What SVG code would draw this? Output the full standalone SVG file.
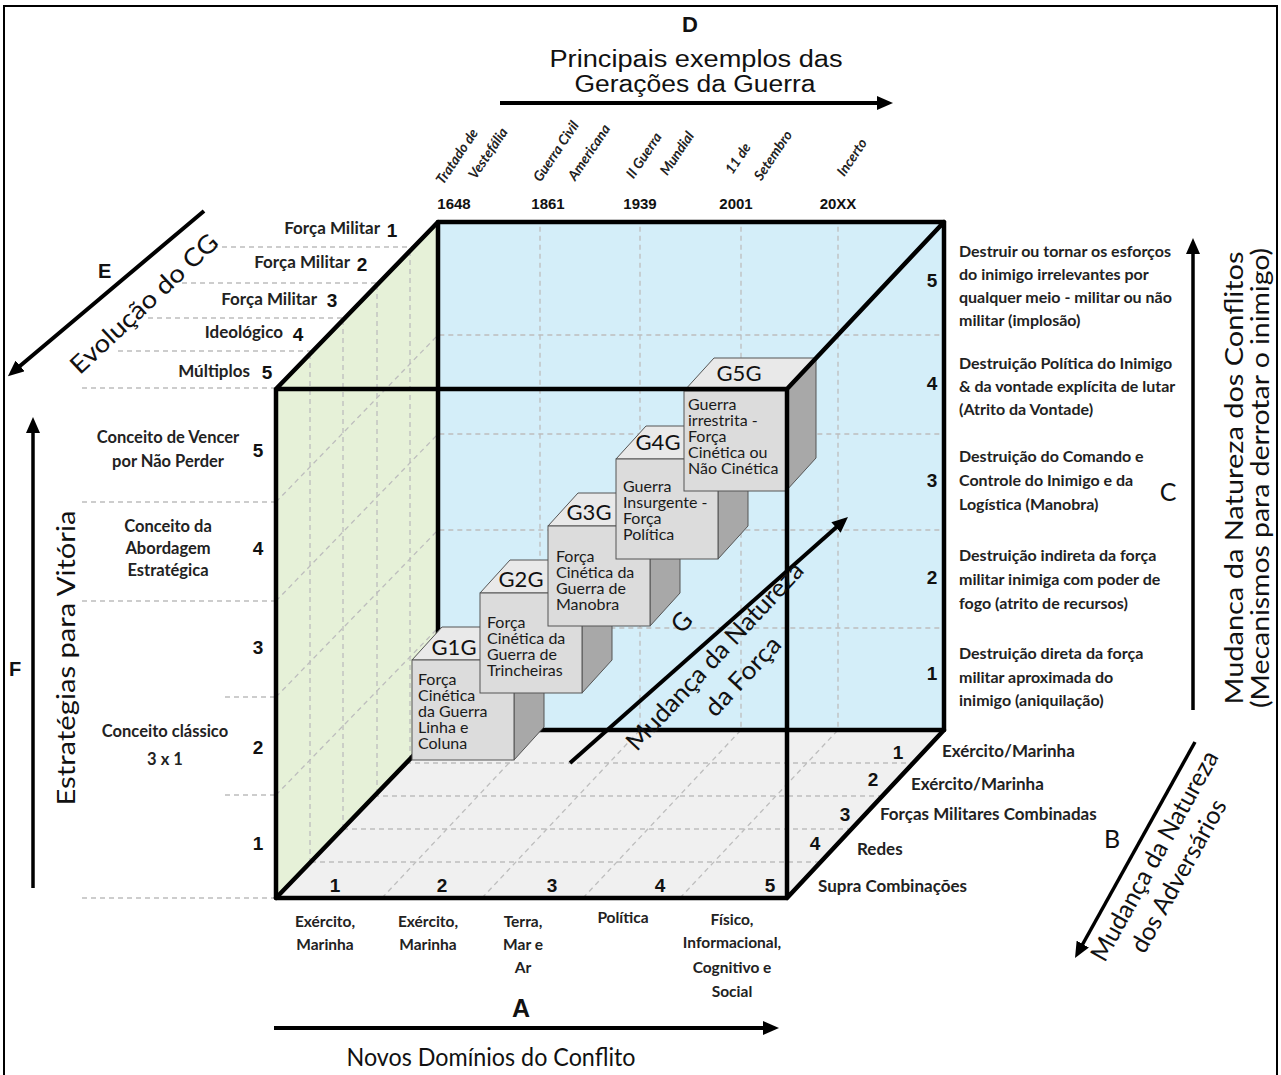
<svg xmlns="http://www.w3.org/2000/svg" width="1281" height="1075" viewBox="0 0 1281 1075">
<defs>
<marker id="ah" viewBox="0 0 16 14" refX="8" refY="7" markerWidth="16" markerHeight="14" markerUnits="userSpaceOnUse" orient="auto"><path d="M0,0 L16,7 L0,14 z" fill="#000"/></marker>
</defs>
<style>
.thick{stroke:#000;stroke-width:4.5;fill:none;stroke-linecap:round;stroke-linejoin:round}
.dash{stroke:#bdbdbd;stroke-width:1.3;stroke-dasharray:5 4;fill:none}
.arr{stroke:#000;stroke-width:4;fill:none;marker-end:url(#ah)}
.n{font-family:"Liberation Sans",Arial,sans-serif;font-weight:bold;font-size:19px;fill:#111}
.l{font-family:Lato,"Liberation Sans",sans-serif;font-weight:700;font-size:15.5px;fill:#222}
.c{font-family:Lato,"Liberation Sans",sans-serif;font-size:16px;fill:#1a1a1a}
.gl{font-family:Lato,"Liberation Sans",sans-serif;font-size:22px;fill:#111;text-anchor:middle}
.big{font-family:Lato,"Liberation Sans",sans-serif;font-size:25px;fill:#111}
.nar{font-family:"Liberation Sans Narrow","Liberation Sans",Arial,sans-serif;fill:#111}
.it{font-family:Lato,"Liberation Sans",sans-serif;font-style:italic;font-weight:700;font-size:14px;fill:#222;text-anchor:middle}
.m{text-anchor:middle}
.e{text-anchor:end}
.ftop{fill:#e9e9e9;stroke:#555;stroke-width:1}
.ffront{fill:#dcdcdc;stroke:#555;stroke-width:1}
.fright{fill:#a8a8a8;stroke:#555;stroke-width:1}
</style>
<rect x="0" y="0" width="1281" height="1075" fill="#fff"/>
<rect x="4" y="6" width="1273" height="1080" fill="none" stroke="#000" stroke-width="2"/>

<g id="cube-frame">
<rect x="438" y="222" width="506" height="508" fill="#d4eef9"/>
<path d="M276,389 L438,222 L438,730 L276,898 Z" fill="#e6f1d8"/>
<path d="M276,898 L438,730 L944,730 L787,898 Z" fill="#f0f0f0"/>
<g class="dash">
<path d="M213,247 H414 M182,283 H379 M148,318 H345 M118,351 H314 M82,388 H276"/>
<path d="M82,502 H276 M82,601 H276 M225,697 H276 M225,795 H276 M82,898 H276"/>
<path d="M276,502 L438,335 H944 M276,601 L438,434 H944 M276,697 L438,530 H944 M276,795 L438,628 H944"/>
<path d="M310,354 V863 M343,320 V829 M377,285 V793 M410,251 V759"/>
<path d="M406,763 H913 M374,796 H882 M343,829 H851 M311,862 H821"/>
<path d="M382,898 L540,730 V222 M482,898 L640,730 V222 M583,898 L741,730 V222 M680,898 L838,730 V222"/>
</g>
<path class="thick" d="M438,222 V730 H944 M276,898 L438,730"/>
</g>

<g id="G1G">
<path class="ftop" d="M412,660 L442,627 L544,627 L514,660 Z"/>
<path class="fright" d="M514,660 L544,627 L544,727 L514,760 Z"/>
<rect class="ffront" x="412" y="660" width="102" height="100"/>
<text class="gl" x="454" y="655">G1G</text>
<text class="c" x="418" y="685"><tspan x="418">Força</tspan><tspan x="418" dy="16">Cinética</tspan><tspan x="418" dy="16">da Guerra</tspan><tspan x="418" dy="16">Linha e</tspan><tspan x="418" dy="16">Coluna</tspan></text>
</g>
<g id="G2G">
<path class="ftop" d="M480,593 L510,560 L612,560 L582,593 Z"/>
<path class="fright" d="M582,593 L612,560 L612,660 L582,693 Z"/>
<rect class="ffront" x="480" y="593" width="102" height="100"/>
<text class="gl" x="521" y="587">G2G</text>
<text class="c" x="487" y="628"><tspan x="487">Força</tspan><tspan x="487" dy="16">Cinética da</tspan><tspan x="487" dy="16">Guerra de</tspan><tspan x="487" dy="16">Trincheiras</tspan></text>
</g>
<g id="G3G">
<path class="ftop" d="M548,526 L578,493 L680,493 L650,526 Z"/>
<path class="fright" d="M650,526 L680,493 L680,593 L650,626 Z"/>
<rect class="ffront" x="548" y="526" width="102" height="100"/>
<text class="gl" x="589" y="520">G3G</text>
<text class="c" x="556" y="562"><tspan x="556">Força</tspan><tspan x="556" dy="16">Cinética da</tspan><tspan x="556" dy="16">Guerra de</tspan><tspan x="556" dy="16">Manobra</tspan></text>
</g>
<g id="G4G">
<path class="ftop" d="M616,459 L646,426 L748,426 L718,459 Z"/>
<path class="fright" d="M718,459 L748,426 L748,526 L718,559 Z"/>
<rect class="ffront" x="616" y="459" width="102" height="100"/>
<text class="gl" x="658" y="450">G4G</text>
<text class="c" x="623" y="492"><tspan x="623">Guerra</tspan><tspan x="623" dy="16">Insurgente -</tspan><tspan x="623" dy="16">Força</tspan><tspan x="623" dy="16">Política</tspan></text>
</g>
<g id="G5G">
<path class="ftop" d="M684,391 L714,358 L816,358 L786,391 Z"/>
<path class="fright" d="M786,391 L816,358 L816,458 L786,491 Z"/>
<rect class="ffront" x="684" y="391" width="102" height="100"/>
<text class="gl" x="739" y="381">G5G</text>
<text class="c" x="688" y="410"><tspan x="688">Guerra</tspan><tspan x="688" dy="16">irrestrita -</tspan><tspan x="688" dy="16">Força</tspan><tspan x="688" dy="16">Cinética ou</tspan><tspan x="688" dy="16">Não Cinética</tspan></text>
</g>

<g id="cube-front-edges">
<path class="thick" d="M276,389 H787 V898 H276 Z M276,389 L438,222 H944 V730 M787,389 L944,222 M787,898 L944,730"/>
</g>

<g id="connectors">
<path class="arr" d="M500,103 H885"/>
<path class="arr" d="M274,1028 H771"/>
<path class="arr" d="M33,888 V425" style="stroke-width:3.5"/>
<path class="arr" d="M1193,710 V246" style="stroke-width:3.5"/>
<path class="arr" d="M204,211 L14,371"/>
<path class="arr" d="M1195,742 L1078.9,951" style="stroke-width:3.5"/>
<path class="arr" d="M570,763 L842,522.3"/>
</g>

<g id="D-axis">
<text class="nar m" x="690" y="32" font-size="22" font-weight="bold">D</text>
<text class="nar m" x="696" y="67" font-size="23" textLength="293" lengthAdjust="spacingAndGlyphs">Principais exemplos das</text>
<text class="nar m" x="695" y="92" font-size="23" textLength="241" lengthAdjust="spacingAndGlyphs">Gerações da Guerra</text>
<text class="it" transform="translate(461,159) rotate(-56)">Tratado de</text>
<text class="it" transform="translate(492,156) rotate(-56)">Vestefália</text>
<text class="it" transform="translate(560,154) rotate(-56)">Guerra Civil</text>
<text class="it" transform="translate(593,155) rotate(-56)">Americana</text>
<text class="it" transform="translate(648,158) rotate(-56)">II Guerra</text>
<text class="it" transform="translate(681,156) rotate(-56)">Mundial</text>
<text class="it" transform="translate(742,161) rotate(-56)">11 de</text>
<text class="it" transform="translate(777,158) rotate(-56)">Setembro</text>
<text class="it" transform="translate(856,160) rotate(-56)">Incerto</text>
<g class="nar m" font-size="15" font-weight="bold">
<text x="454" y="209">1648</text>
<text x="548" y="209">1861</text>
<text x="640" y="209">1939</text>
<text x="736" y="209">2001</text>
<text x="838" y="209">20XX</text>
</g>
</g>

<g id="E-axis">
<text class="nar" x="98" y="278" font-size="20" font-weight="bold">E</text>
<text class="big m" transform="translate(150,310) rotate(-43)" textLength="192" lengthAdjust="spacingAndGlyphs">Evolução do CG</text>
<text class="l e" x="380" y="234" style="font-size:17px">Força Militar</text><text class="n m" x="392" y="237">1</text>
<text class="l e" x="350" y="268" style="font-size:17px">Força Militar</text><text class="n m" x="362" y="271">2</text>
<text class="l e" x="317" y="305" style="font-size:17px">Força Militar</text><text class="n m" x="332" y="307">3</text>
<text class="l e" x="283" y="338" style="font-size:17px">Ideológico</text><text class="n m" x="298" y="341">4</text>
<text class="l e" x="250" y="377" style="font-size:17px">Múltiplos</text><text class="n m" x="267" y="379">5</text>
</g>

<g id="F-axis">
<text class="nar" x="9" y="676" font-size="20" font-weight="bold">F</text>
<text class="big m" transform="translate(75,658) rotate(-90)" textLength="295" lengthAdjust="spacingAndGlyphs">Estratégias para Vitória</text>
<text class="l m" x="168" y="443" style="font-size:16.5px">Conceito de Vencer</text>
<text class="l m" x="168" y="467" style="font-size:16.5px">por Não Perder</text>
<text class="n m" x="258" y="457">5</text>
<text class="l m" x="168" y="532" style="font-size:16.5px">Conceito da</text>
<text class="l m" x="168" y="554" style="font-size:16.5px">Abordagem</text>
<text class="l m" x="168" y="576" style="font-size:16.5px">Estratégica</text>
<text class="n m" x="258" y="555">4</text>
<text class="n m" x="258" y="654">3</text>
<text class="l m" x="165" y="737" style="font-size:16.5px">Conceito clássico</text>
<text class="l m" x="165" y="765" style="font-size:16.5px">3 x 1</text>
<text class="n m" x="258" y="754">2</text>
<text class="n m" x="258" y="850">1</text>
</g>

<g id="C-axis">
<text class="n m" x="932" y="287">5</text>
<text class="n m" x="932" y="390">4</text>
<text class="n m" x="932" y="487">3</text>
<text class="n m" x="932" y="584">2</text>
<text class="n m" x="932" y="680">1</text>
<text class="l" x="959" y="257" style="font-size:16px">Destruir ou tornar os esforços</text>
<text class="l" x="959" y="280" style="font-size:16px">do inimigo irrelevantes por</text>
<text class="l" x="959" y="303" style="font-size:16px">qualquer meio - militar ou não</text>
<text class="l" x="959" y="326" style="font-size:16px">militar (implosão)</text>
<text class="l" x="959" y="369" style="font-size:16px">Destruição Política do Inimigo</text>
<text class="l" x="959" y="392" style="font-size:16px">&amp; da vontade explícita de lutar</text>
<text class="l" x="959" y="415" style="font-size:16px">(Atrito da Vontade)</text>
<text class="l" x="959" y="462" style="font-size:16px">Destruição do Comando e</text>
<text class="l" x="959" y="486" style="font-size:16px">Controle do Inimigo e da</text>
<text class="l" x="959" y="510" style="font-size:16px">Logística (Manobra)</text>
<text class="l" x="959" y="561" style="font-size:16px">Destruição indireta da força</text>
<text class="l" x="959" y="585" style="font-size:16px">militar inimiga com poder de</text>
<text class="l" x="959" y="609" style="font-size:16px">fogo (atrito de recursos)</text>
<text class="l" x="959" y="659" style="font-size:16px">Destruição direta da força</text>
<text class="l" x="959" y="683" style="font-size:16px">militar aproximada do</text>
<text class="l" x="959" y="706" style="font-size:16px">inimigo (aniquilação)</text>
<text class="big m" x="1168" y="501" font-size="22">C</text>
<text class="big m" transform="translate(1243,478) rotate(-90)" textLength="453" lengthAdjust="spacingAndGlyphs">Mudanca da Natureza dos Conflitos</text>
<text class="big m" transform="translate(1269,478) rotate(-90)" textLength="460" lengthAdjust="spacingAndGlyphs">(Mecanismos para derrotar o inimigo)</text>
</g>

<g id="B-axis">
<text class="n m" x="898" y="759">1</text>
<text class="n m" x="873" y="786">2</text>
<text class="n m" x="845" y="821">3</text>
<text class="n m" x="815" y="850">4</text>
<text class="l" x="942" y="757" style="font-size:17px">Exército/Marinha</text>
<text class="l" x="911" y="790" style="font-size:17px">Exército/Marinha</text>
<text class="l" x="880" y="820" style="font-size:17px">Forças Militares Combinadas</text>
<text class="l" x="857" y="855" style="font-size:17px">Redes</text>
<text class="l" x="818" y="892" style="font-size:17px">Supra Combinações</text>
<text class="big m" x="1112" y="848" font-size="22">B</text>
<text class="big m" font-size="20" transform="translate(1162,860) rotate(-61)" textLength="236" lengthAdjust="spacingAndGlyphs">Mudança da Natureza</text>
<text class="big m" font-size="20" transform="translate(1186,880) rotate(-61)" textLength="171" lengthAdjust="spacingAndGlyphs">dos Adversários</text>
</g>

<g id="A-axis">
<text class="n m" x="335" y="892">1</text>
<text class="n m" x="442" y="892">2</text>
<text class="n m" x="552" y="892">3</text>
<text class="n m" x="660" y="892">4</text>
<text class="n m" x="770" y="892">5</text>
<text class="l m" x="325" y="927">Exército,</text>
<text class="l m" x="325" y="950">Marinha</text>
<text class="l m" x="428" y="927">Exército,</text>
<text class="l m" x="428" y="950">Marinha</text>
<text class="l m" x="523" y="927">Terra,</text>
<text class="l m" x="523" y="950">Mar e</text>
<text class="l m" x="523" y="973">Ar</text>
<text class="l m" x="623" y="923">Política</text>
<text class="l m" x="732" y="925">Físico,</text>
<text class="l m" x="732" y="948">Informacional,</text>
<text class="l m" x="732" y="973">Cognitivo e</text>
<text class="l m" x="732" y="997">Social</text>
<text class="nar m" x="521" y="1017" font-size="25" font-weight="bold">A</text>
<text class="big m" x="491" y="1066" textLength="289" lengthAdjust="spacingAndGlyphs">Novos Domínios do Conflito</text>
</g>

<g id="G-axis">
<text class="big m" font-size="24" transform="translate(688,628) rotate(-47)">G</text>
<text class="big m" font-size="22" transform="translate(721,662) rotate(-47)" textLength="247" lengthAdjust="spacingAndGlyphs">Mudança da Natureza</text>
<text class="big m" font-size="22" transform="translate(749,682) rotate(-47)" textLength="99" lengthAdjust="spacingAndGlyphs">da Força</text>
</g>
</svg>
